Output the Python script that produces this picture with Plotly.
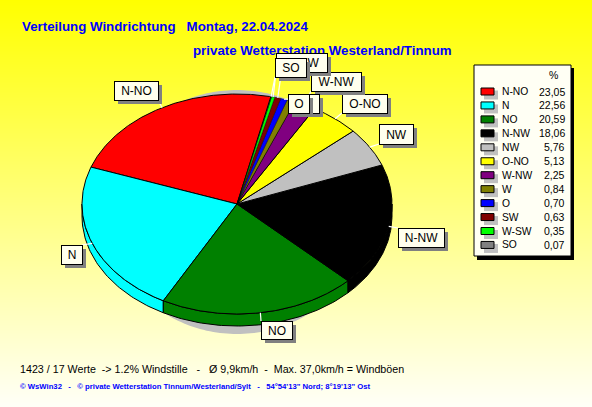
import numpy as np
import plotly.graph_objects as go

# ---- data ----
categories = ["N-NO", "N", "NO", "N-NW", "NW", "O-NO", "W-NW", "W", "O", "SW", "W-SW", "SO"]
values = [23.05, 22.56, 20.59, 18.06, 5.76, 5.13, 2.25, 0.84, 0.70, 0.63, 0.35, 0.07]
colors = ["#FF0000", "#00FFFF", "#008000", "#000000", "#C0C0C0", "#FFFF00",
          "#800080", "#808000", "#0000FF", "#800000", "#00FF00", "#808080"]
title_1 = "Verteilung Windrichtung   Montag, 22.04.2024"
title_2 = "private Wetterstation Westerland/Tinnum"
footer_1 = "1423 / 17 Werte  -> 1.2% Windstille   -   Ø 9,9km/h  -  Max. 37,0km/h = Windböen"
footer_2 = "© WsWin32   -   © private Wetterstation Tinnum/Westerland/Sylt   -   54°54'13\" Nord; 8°19'13\" Ost"

# ---- layout constants (pixels) ----
W, H = 592, 407
CX, CY, RX, RY, DEPTH = 237, 204, 155, 110, 12
START = 77.4
FONT = "Liberation Sans, Arial, sans-serif"
# box of each label: x0, y0, x1, y1
boxes = {
    "N-NO": (114, 81, 158, 100), "N": (61, 245, 82, 264), "NO": (261, 321, 292, 339),
    "N-NW": (398, 228, 444, 247), "NW": (379, 124, 413, 144), "O-NO": (342, 94, 387, 113),
    "W-NW": (311, 72, 361, 91), "W": (295, 94, 319, 113), "O": (288, 94, 309, 113),
    "SW": (281, 56, 305, 75), "W-SW": (276, 53, 327, 72), "SO": (275, 58, 306, 77),
}

fig = go.Figure()

# gradient background
rows = np.arange(H + 1)
fig.add_trace(go.Heatmap(z=rows[:, None].repeat(2, axis=1), x=[0, W], y=rows,
                         colorscale=[[0, "#FFFF00"], [1, "#FFFFF8"]], showscale=False,
                         hoverinfo="skip"))

def ell(deg, dy=0.0, rx=RX, ry=RY, cx=CX, cy=CY):
    a = np.radians(deg)
    return cx + rx * np.cos(a), cy - ry * np.sin(a) + dy

# soft grey shadow behind the pie
sx, sy = ell(np.linspace(0, 360, 241), rx=130, ry=122, cy=212)
fig.add_trace(go.Scatter(x=sx, y=sy, fill="toself", fillcolor="#C0C0C0", mode="none",
                         hoverinfo="skip"))

total = sum(values)
edges = START + np.concatenate([[0], np.cumsum(values)]) / total * 360
spans = list(zip(edges[:-1], edges[1:]))

# rim (only the part of each slice on the front of the pie)
for (a0, a1), c in zip(spans, colors):
    for shift in (0, 360):
        lo, hi = max(a0, 180 + shift), min(a1, 360 + shift)
        if hi <= lo:
            continue
        t = np.linspace(lo, hi, 60)
        x1, y1 = ell(t)
        x2, y2 = ell(t[::-1], dy=DEPTH)
        fig.add_trace(go.Scatter(x=np.r_[x1, x2, x1[0]], y=np.r_[y1, y2, y1[0]], mode="lines",
                                 fill="toself", fillcolor=c, line=dict(color="black", width=1),
                                 hoverinfo="skip"))

# top face; the thinnest slices get a finer outline so that their colour still shows
for (a0, a1), c in zip(spans, colors):
    t = np.linspace(a0, a1, max(3, int(a1 - a0) * 2))
    x, y = ell(t)
    lw = 1 if a1 - a0 > 6 else 0.4
    fig.add_trace(go.Scatter(x=np.r_[CX, x, CX], y=np.r_[CY, y, CY], mode="lines",
                             fill="toself", fillcolor=c, line=dict(color="black", width=lw),
                             hoverinfo="skip"))

# white leader lines, from each slice's middle to its label box
for (a0, a1), name in zip(spans, categories):
    bx0, by0, bx1, by1 = boxes[name]
    px, py = ell((a0 + a1) / 2)
    qx, qy = min(max(px, bx0), bx1), min(max(py, by0), by1)
    fig.add_trace(go.Scatter(x=[px, qx], y=[py, qy], mode="lines",
                             line=dict(color="white", width=1.2), hoverinfo="skip"))

ann = []
def text(x, y, s, size=11, color="black", anchor="left", bold=False):
    ann.append(dict(x=x, y=y, xref="x", yref="y", text=f"<b>{s}</b>" if bold else s, showarrow=False,
                    xanchor=anchor, yanchor="middle", font=dict(family=FONT, size=size, color=color)))

text(20, 26, title_1, size=13.3, color="#0000FF", bold=True)
text(191, 50, title_2, size=13.3, color="#0000FF", bold=True)
text(18, 369, footer_1, size=10.7, color="#000000")
text(18, 386, footer_2, size=7.7, color="#0000FF", bold=True)

for name in categories:
    x0, y0, x1, y1 = boxes[name]
    w, h = x1 - x0, y1 - y0
    ann.append(dict(x=x0 + 4, y=y0 + 4, xref="x", yref="y", text=" ", showarrow=False,
                    xanchor="left", yanchor="top", width=w, height=h, borderpad=0, borderwidth=0,
                    bgcolor="#808080", font=dict(size=10)))
    ann.append(dict(x=x0, y=y0, xref="x", yref="y", text=name, showarrow=False,
                    xanchor="left", yanchor="top", width=w - 1, height=h - 1, borderpad=0, borderwidth=1,
                    bordercolor="black", bgcolor="#FFFFEE", align="center", valign="middle",
                    font=dict(family=FONT, size=12, color="black")))

# legend panel
shapes = [
    dict(type="rect", x0=477, y0=68, x1=574, y1=260, fillcolor="black", line_width=0, layer="above"),
    dict(type="rect", x0=474, y0=65, x1=571, y1=256, fillcolor="#FFFFF4",
         line=dict(color="black", width=1), layer="above"),
]
text(553, 75, "%", size=10.5, anchor="center")
for i, (name, v, c) in enumerate(zip(categories, values, colors)):
    yc = 91.5 + i * 13.95
    shapes.append(dict(type="rect", x0=484, y0=yc - 1, x1=498, y1=yc + 8, fillcolor="#C0C0C0",
                       line_width=0, layer="above"))
    shapes.append(dict(type="rect", x0=481, y0=yc - 3.5, x1=494, y1=yc + 3.5, fillcolor=c,
                       line=dict(color="black", width=1), layer="above"))
    text(500, yc, name, size=10.3)
    text(567, yc, f"{v:.2f}".replace(".", ","), size=10.5, anchor="right")

fig.update_layout(
    width=W, height=H, margin=dict(l=0, r=0, t=0, b=0), showlegend=False,
    paper_bgcolor="#FFFFFF", plot_bgcolor="rgba(0,0,0,0)",
    xaxis=dict(range=[0, W], visible=False, fixedrange=True),
    yaxis=dict(range=[H, 0], visible=False, fixedrange=True),
    annotations=ann, shapes=shapes,
)
fig.write_html("out.html", config=dict(displayModeBar=False),
               post_script="document.body.style.margin='0';document.documentElement.style.overflow='hidden';")
